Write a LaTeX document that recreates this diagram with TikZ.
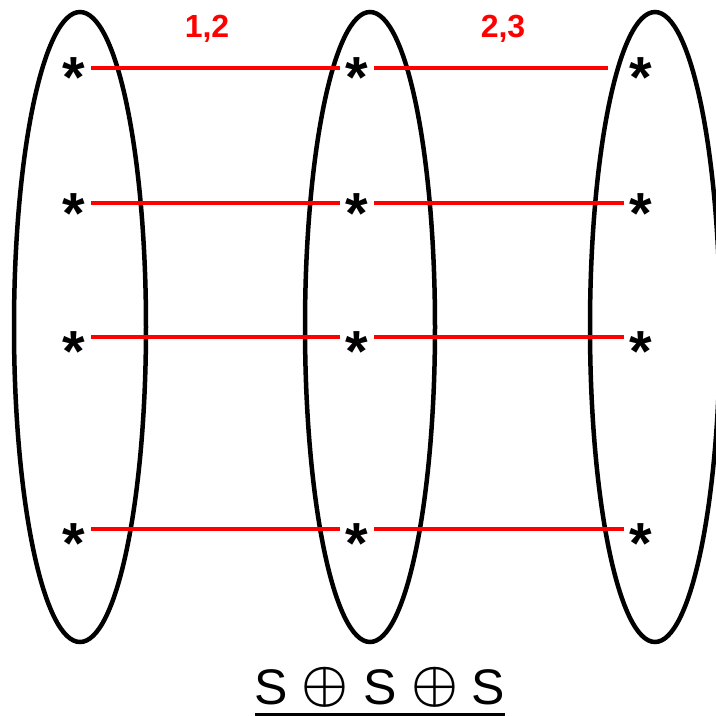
\documentclass[tikz,border=0pt]{standalone}
\usepackage{fontspec}
\usepackage{graphicx}
\setmainfont{Liberation Sans}
\newcommand\starmark[1]{\smash{\raisebox{#1}{*}}}
\newcommand\dsum{\raisebox{4pt}{\resizebox{47pt}{!}{\boldmath$\oplus$}}}
\begin{document}
\begin{tikzpicture}[x=1pt,y=-1pt,
  oval/.style={draw=black,line width=4.5pt},
  starnode/.style={inner sep=0pt,minimum width=34pt,minimum height=20pt,font=\fontsize{58}{58}\selectfont\bfseries},
  link/.style={draw=red,line width=3.3pt},
  lbl/.style={text=red,inner sep=0pt,font=\fontsize{32}{32}\selectfont\bfseries}]
\useasboundingbox (0,0) rectangle (716,716);
\draw[oval] (80,327) ellipse [x radius=66, y radius=315];
\draw[oval] (370,327) ellipse [x radius=65, y radius=315];
\draw[oval] (655,327) ellipse [x radius=65, y radius=315];
% stars
\foreach \col/\x in {a/74,b/357,c/641}{
  \node[starnode] (\col1) at (\x,68) {\starmark{-29pt}};
  \node[starnode] (\col2) at (\x,203) {\starmark{-30pt}};
  \node[starnode] (\col3) at (\x,337) {\starmark{-34pt}};
  \node[starnode] (\col4) at (\x,529) {\starmark{-34pt}};
}
% links
\draw[link] (a1) -- (b1);
\draw[link,shorten >=16pt] (b1) -- (c1);
\foreach \r in {2,3,4}{
  \draw[link] (a\r) -- (b\r);
  \draw[link] (b\r) -- (c\r);
}
\node[lbl] (l12) at (207,29) {1,2};
\node[lbl] (l23) at (503,29) {2,3};
\node[anchor=base,inner sep=0pt,font=\fontsize{50}{50}\selectfont] (sum) at (380,704)
  {S\hspace{13pt}\dsum\hspace{15pt}S\hspace{15pt}\dsum\hspace{13pt}S};
\draw[line width=3pt] ([yshift=-10pt]sum.base west) -- ([yshift=-10pt]sum.base east);
\end{tikzpicture}
\end{document}
